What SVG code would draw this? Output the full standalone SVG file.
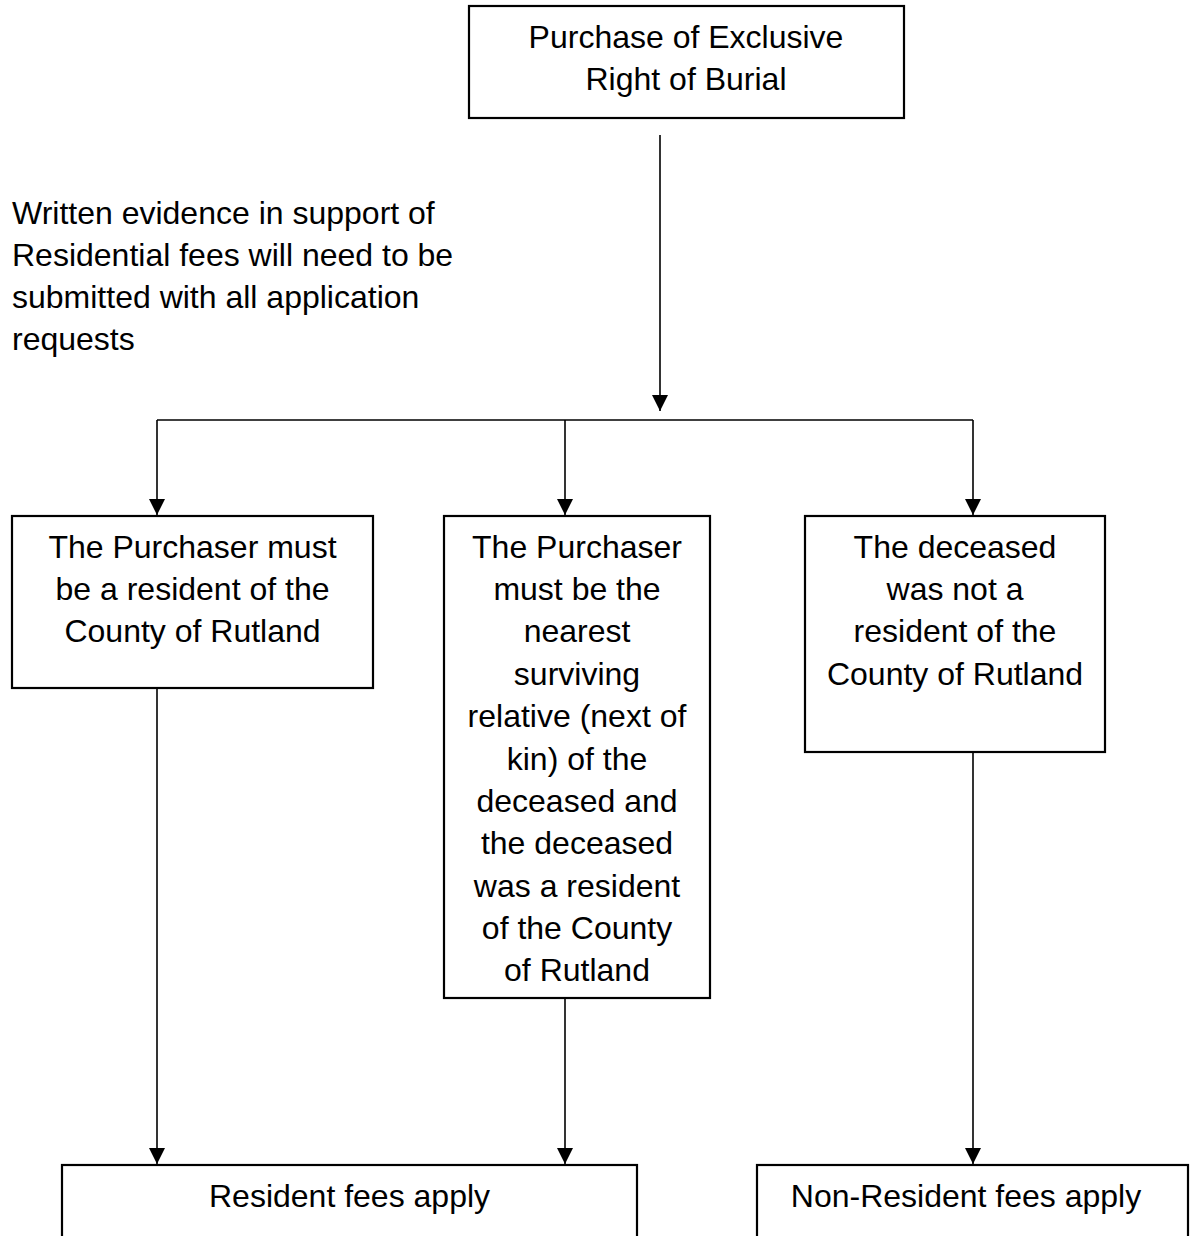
<svg xmlns="http://www.w3.org/2000/svg" width="1190" height="1236" viewBox="0 0 1190 1236">
<style>
  .box { fill: #ffffff; stroke: #000000; stroke-width: 2.2; }
  .t { font-family: "Liberation Sans", Arial, sans-serif; font-size: 32px; fill: #000000; text-anchor: middle; }
  .tl { font-family: "Liberation Sans", Arial, sans-serif; font-size: 32px; fill: #000000; text-anchor: start; }
  .c { fill: none; stroke: #000000; stroke-width: 1.6; }
</style>
<defs>
  <marker id="ah" markerUnits="userSpaceOnUse" markerWidth="16" markerHeight="16" viewBox="0 0 16 16" refX="16" refY="8" orient="auto">
    <path d="M0,0 L16,8 L0,16 Z" fill="#000000"/>
  </marker>
</defs>
<rect width="1190" height="1236" fill="#ffffff"/>

<g id="connectors">
  <path class="c" d="M660,135 V411" marker-end="url(#ah)"/>
  <path class="c" d="M157,420 H973"/>
  <path class="c" d="M157,420 V515" marker-end="url(#ah)"/>
  <path class="c" d="M565,420 V515" marker-end="url(#ah)"/>
  <path class="c" d="M973,420 V515" marker-end="url(#ah)"/>
  <path class="c" d="M157,688 V1164" marker-end="url(#ah)"/>
  <path class="c" d="M565,998 V1164" marker-end="url(#ah)"/>
  <path class="c" d="M973,752 V1164" marker-end="url(#ah)"/>
</g>

<g id="note">
  <text class="tl" x="12" y="224">Written evidence in support of</text>
  <text class="tl" x="12" y="266">Residential fees will need to be</text>
  <text class="tl" x="12" y="308">submitted with all application</text>
  <text class="tl" x="12" y="350">requests</text>
</g>

<g id="node-purchase">
  <rect class="box" x="469" y="6" width="435" height="112"/>
  <text class="t" x="686" y="48">Purchase of Exclusive</text>
  <text class="t" x="686" y="90">Right of Burial</text>
</g>

<g id="node-resident-purchaser">
  <rect class="box" x="12" y="516" width="361" height="172"/>
  <text class="t" x="192.5" y="558">The Purchaser must</text>
  <text class="t" x="192.5" y="600">be a resident of the</text>
  <text class="t" x="192.5" y="642">County of Rutland</text>
</g>

<g id="node-next-of-kin">
  <rect class="box" x="444" y="516" width="266" height="482"/>
  <text class="t" x="577" y="558">The Purchaser</text>
  <text class="t" x="577" y="600">must be the</text>
  <text class="t" x="577" y="642">nearest</text>
  <text class="t" x="577" y="685">surviving</text>
  <text class="t" x="577" y="727">relative (next of</text>
  <text class="t" x="577" y="770">kin) of the</text>
  <text class="t" x="577" y="812">deceased and</text>
  <text class="t" x="577" y="854">the deceased</text>
  <text class="t" x="577" y="897">was a resident</text>
  <text class="t" x="577" y="939">of the County</text>
  <text class="t" x="577" y="981">of Rutland</text>
</g>

<g id="node-non-resident-deceased">
  <rect class="box" x="805" y="516" width="300" height="236"/>
  <text class="t" x="955" y="558">The deceased</text>
  <text class="t" x="955" y="600">was not a</text>
  <text class="t" x="955" y="642">resident of the</text>
  <text class="t" x="955" y="685">County of Rutland</text>
</g>

<g id="node-resident-fees">
  <rect class="box" x="62" y="1165" width="575" height="90"/>
  <text class="t" x="349.5" y="1207">Resident fees apply</text>
</g>

<g id="node-non-resident-fees">
  <rect class="box" x="757" y="1165" width="431" height="90"/>
  <text class="t" x="966" y="1207">Non-Resident fees apply</text>
</g>
</svg>
